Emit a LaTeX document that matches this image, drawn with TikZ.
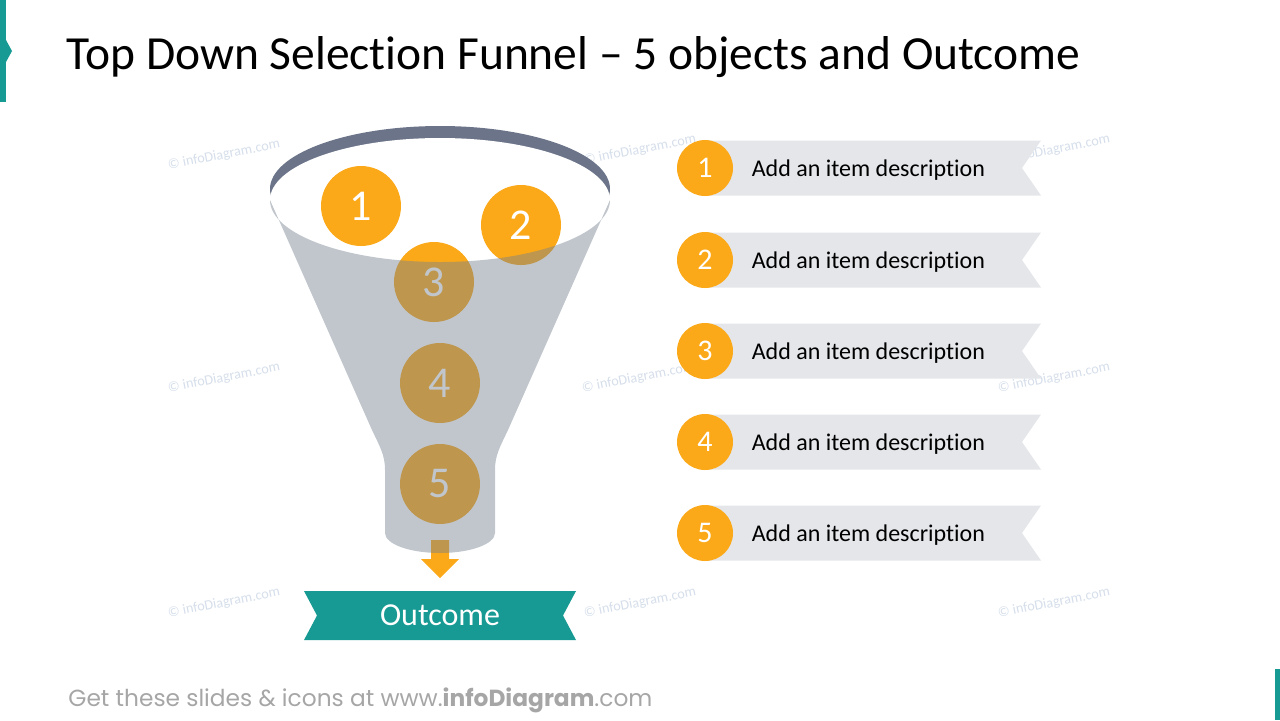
\documentclass[tikz,border=0pt]{standalone}
\usepackage{fontspec}
\setmainfont{Carlito}[Ligatures=CommonOff]
\newfontfamily\footfont{Poppins}
\usetikzlibrary{positioning}

\definecolor{tealone}{HTML}{169A93}
\definecolor{ballorange}{HTML}{FBA919}
\definecolor{rimgray}{HTML}{6B7489}
\definecolor{bodygray}{HTML}{76818E}
\definecolor{bandgray}{HTML}{E4E6EA}
\definecolor{markblue}{HTML}{D5DEEA}
\definecolor{footgray}{HTML}{A6A6A6}

\begin{document}
\begin{tikzpicture}[x=0.5pt, y=-0.5pt,
  ball/.style={circle, fill=ballorange, minimum size=40pt, inner sep=0pt, text=white, font=\fontsize{22}{22}\selectfont},
  dot/.style={circle, fill=ballorange, minimum size=28pt, inner sep=0pt, text=white, font=\fontsize{15}{15}\selectfont},
  band/.style={fill=bandgray},
  desc/.style={inner sep=0pt, font=\fontsize{12}{12}\selectfont},
  wmark/.style={text=markblue, rotate=11, inner sep=0pt, font=\fontsize{7.1}{7.1}\selectfont}]
\useasboundingbox (0,0) rectangle (1280,720);

% Watermarks (behind everything)
\node[wmark] (w1) at (224,155) {© infoDiagram.com};
\node[wmark] (w2) at (640,150) {© infoDiagram.com};
\node[wmark] (w3) at (1054,150) {© infoDiagram.com};
\node[wmark] (w4) at (224,378) {© infoDiagram.com};
\node[wmark] (w5) at (638,378) {© infoDiagram.com};
\node[wmark] (w6) at (1054,378) {© infoDiagram.com};
\node[wmark] (w7) at (224,603) {© infoDiagram.com};
\node[wmark] (w8) at (640,603) {© infoDiagram.com};
\node[wmark] (w9) at (1054,603) {© infoDiagram.com};

% Slide accents and title
\fill[tealone] (0,0) rectangle (6,102);
\fill[tealone] (6,40) -- (12,51) -- (6,62) -- cycle;
\fill[tealone] (1275,669) rectangle (1280,720);
\node[anchor=base west, inner sep=0pt, font=\fontsize{23.75}{23.75}\selectfont] (title) at (66,69)
  {Top Down Selection Funnel – 5 objects and Outcome};

% Funnel opening
\fill[rimgray] (440,189) ellipse [x radius=170, y radius=63];
\fill[white] (440,200) ellipse [x radius=170, y radius=62];

% Objects falling in
\node[ball] (b1) at (361,206) {1};
\node[ball] (b2) at (521,225) {2};
\node[ball] (b3) at (434,282) {3};
\node[ball] (b4) at (440,383) {4};
\node[ball] (b5) at (440,484) {5};

% Arrow down to the outcome
\fill[ballorange] (431,540) -- (449,540) -- (449,559) -- (459,559) -- (440,578)
  -- (421,559) -- (431,559) -- cycle;

% Funnel body (see-through)
\fill[bodygray, fill opacity=0.45] (270,200) -- (372,430)
  .. controls (380,447) and (385,455) .. (385,470) -- (385,533)
  arc [start angle=180, end angle=0, x radius=55, y radius=20]
  -- (495,470) .. controls (495,455) and (500,447) .. (508,430) -- (610,200)
  arc [start angle=0, end angle=180, x radius=170, y radius=62] -- cycle;

% Outcome ribbon
\fill[tealone] (304,591) -- (576,591) -- (563,615.5) -- (576,640) -- (304,640)
  -- (317,615.5) -- cycle;
\node[text=white, font=\fontsize{16}{16}\selectfont] (outcome) at (440,615.5) {Outcome};

% Item list
\fill[band] (705,140.5) -- (1041,140.5) -- (1022,168) -- (1041,195.5) -- (705,195.5) -- cycle;
\fill[band] (705,232.5) -- (1041,232.5) -- (1022,260) -- (1041,287.5) -- (705,287.5) -- cycle;
\fill[band] (705,323.5) -- (1041,323.5) -- (1022,351) -- (1041,378.5) -- (705,378.5) -- cycle;
\fill[band] (705,414.5) -- (1041,414.5) -- (1022,442) -- (1041,469.5) -- (705,469.5) -- cycle;
\fill[band] (705,505.5) -- (1041,505.5) -- (1022,533) -- (1041,560.5) -- (705,560.5) -- cycle;

\node[dot] (d1) at (705,168) {1};
\node[dot] (d2) at (705,260) {2};
\node[dot] (d3) at (705,351) {3};
\node[dot] (d4) at (705,442) {4};
\node[dot] (d5) at (705,533) {5};

\node[desc, right=9pt of d1, yshift=-1pt] (t1) {Add an item description};
\node[desc, right=9pt of d2, yshift=-1pt] (t2) {Add an item description};
\node[desc, right=9pt of d3, yshift=-1pt] (t3) {Add an item description};
\node[desc, right=9pt of d4, yshift=-1pt] (t4) {Add an item description};
\node[desc, right=9pt of d5, yshift=-1pt] (t5) {Add an item description};

% Footer
\node[anchor=base west, inner sep=0pt, text=footgray, font=\footfont\fontsize{11.65}{11.65}\selectfont] (foot) at (68,706)
  {Get these slides \& icons at www.\textbf{infoDiagram}.com};

\end{tikzpicture}
\end{document}
